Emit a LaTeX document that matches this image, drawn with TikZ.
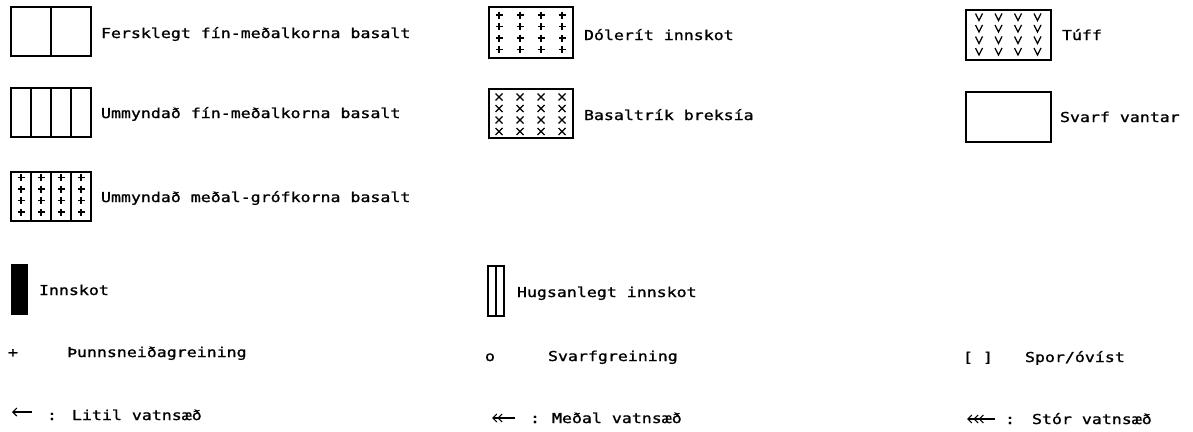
\documentclass[tikz,border=0pt]{standalone}
\usepackage{fontspec}
\newfontfamily\plotfont[FakeStretch=1.21,FakeBold=1.2]{DejaVu Sans Mono}
\usetikzlibrary{arrows.meta}
\begin{document}
\begin{tikzpicture}[x=1pt,y=-1pt,
  lbl/.style={anchor=base west, inner sep=0pt, outer sep=0pt, font=\plotfont\fontsize{13.7}{16}\selectfont},
  legbox/.style={draw, line width=1.7pt, anchor=north west, inner sep=0pt, outer sep=0pt},
  divider/.style={line width=1.1pt},
  sym/.style={line width=1.3pt},
  wline/.style={line width=1.1pt}]
\useasboundingbox[fill=white] (0,0) rectangle (1193,431);

% ---- left column ----
\node[legbox, minimum width=80pt, minimum height=49pt] (fersk) at (11,7) {};
\draw[divider] (fersk.north) -- (fersk.south);
\node[lbl] (tfersk) at (101,38) {Fersklegt fín-meðalkorna basalt};

\node[legbox, minimum width=80pt, minimum height=49pt] (umma) at (11,88) {};
\foreach \x in {31,51,71} \draw[divider] (\x,88) -- (\x,137);
\node[lbl] (tumma) at (101,118) {Ummyndað fín-meðalkorna basalt};

\node[legbox, minimum width=80pt, minimum height=49pt] (ummb) at (11,172) {};
\foreach \x in {31,51,71} \draw[divider] (\x,172) -- (\x,221);
\foreach \x in {21,41,61,81}
  \foreach \y in {177.5,189,200.5,212}
    \draw[sym] (\x-3.5,\y) -- (\x+3.5,\y) (\x,\y-3.5) -- (\x,\y+3.5);
\node[lbl] (tummb) at (101,202) {Ummyndað meðal-grófkorna basalt};

\node[draw, fill=black, line width=1pt, anchor=north west, inner sep=0pt, minimum width=16pt, minimum height=50pt] (inn) at (11,264) {};
\node[lbl] (tinn) at (39,295) {Innskot};

\node[lbl] (plus) at (8,357) {+};
\node[lbl] (tplus) at (67,357) {Þunnsneiðagreining};

\coordinate (la1) at (32,412);
\coordinate (la0) at (12,412);
\draw[wline, {Straight Barb[length=4pt,width=8pt]}-] (la0) -- (la1);
\node[lbl] (lc) at (47,420) {:};
\node[lbl] (tl) at (72,420) {Litil vatnsæð};

% ---- middle column ----
\node[legbox, minimum width=84pt, minimum height=51pt] (dol) at (489,7) {};
\foreach \x in {499,520,541,562}
  \foreach \y in {15,26.5,38,49.5}
    \draw[sym] (\x-3.5,\y) -- (\x+3.5,\y) (\x,\y-3.5) -- (\x,\y+3.5);
\node[lbl] (tdol) at (584,40) {Dólerít innskot};

\node[legbox, minimum width=84pt, minimum height=49pt] (bre) at (489,89) {};
\foreach \x in {499,520,541,562}
  \foreach \y in {97,108.5,120,131.5}
    \draw[sym] (\x-3.5,\y-3.5) -- (\x+3.5,\y+3.5) (\x-3.5,\y+3.5) -- (\x+3.5,\y-3.5);
\node[lbl] (tbre) at (584,120) {Basaltrík breksía};

\node[legbox, line width=1.2pt, minimum width=16pt, minimum height=50pt] (hug) at (488,266) {};
\draw[divider] (hug.north) -- (hug.south);
\node[lbl] (thug) at (517,297) {Hugsanlegt innskot};

\node[lbl] (circ) at (485,361) {o};
\node[lbl] (tcirc) at (548,361) {Svarfgreining};

\coordinate (ma1) at (515,418);
\coordinate (ma0) at (490,418);
\draw[wline, {Straight Barb[length=4pt,width=8pt,sep=2pt]Straight Barb[length=4pt,width=8pt]}-] (ma0) -- (ma1);
\node[lbl] (mc) at (530,423) {:};
\node[lbl] (tm) at (552,423) {Meðal vatnsæð};

% ---- right column ----
\node[legbox, minimum width=85pt, minimum height=50pt] (tuf) at (966,10) {};
\foreach \x in {979,998.5,1018,1037.5}
  \foreach \y in {17,28.5,40,51.5}
    \draw[sym] (\x-3.5,\y-3.5) -- (\x,\y+3.5) -- (\x+3.5,\y-3.5);
\node[lbl] (ttuf) at (1062,40) {Túff};

\node[legbox, minimum width=85pt, minimum height=50pt] (van) at (966,92) {};
\node[lbl] (tvan) at (1060,122) {Svarf vantar};

\node[lbl] (brk) at (963,362) {[ ]};
\node[lbl] (tbrk) at (1025,362) {Spor/óvíst};

\coordinate (ra1) at (995,419);
\coordinate (ra0) at (966,419);
\draw[wline, {Straight Barb[length=4pt,width=8pt,sep=1pt]Straight Barb[length=4pt,width=8pt,sep=1pt]Straight Barb[length=4pt,width=8pt]}-] (ra0) -- (ra1);
\node[lbl] (rc) at (1005,424) {:};
\node[lbl] (tr) at (1032,424) {Stór vatnsæð};
\end{tikzpicture}
\end{document}
